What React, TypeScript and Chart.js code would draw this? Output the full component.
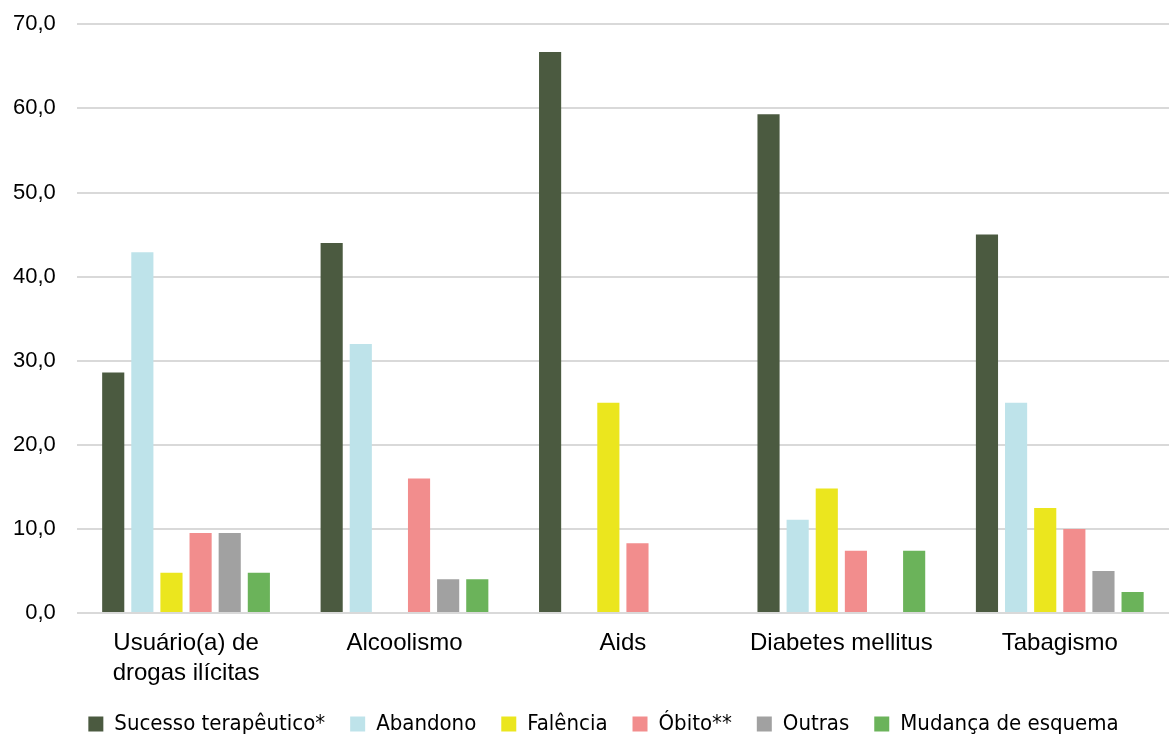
import React, { useEffect, useRef } from "react";
import { Chart, registerables } from "chart.js";

Chart.register(...registerables);

const categories: (string | string[])[] = [
  ["Usuário(a) de", "drogas ilícitas"],
  "Alcoolismo",
  "Aids",
  "Diabetes mellitus",
  "Tabagismo",
];

const sucesso = [28.6, 44.0, 66.7, 59.3, 45.0];
const abandono = [42.9, 32.0, null, 11.1, 25.0];
const falencia = [4.8, null, 25.0, 14.8, 12.5];
const obito = [9.5, 16.0, 8.3, 7.4, 10.0];
const outras = [9.5, 4.0, null, null, 5.0];
const mudanca = [4.8, 4.0, null, 7.4, 2.5];

const seriesNames = [
  "Sucesso terapêutico*",
  "Abandono",
  "Falência",
  "Óbito**",
  "Outras",
  "Mudança de esquema",
];
const seriesColors = ["#4b5a40", "#bee3ea", "#ebe61e", "#f28d8d", "#a1a1a1", "#6bb35a"];
const seriesValues = [sucesso, abandono, falencia, obito, outras, mudanca];

const yMax = 70;
const yStep = 10;

const legendShift = {
  id: "legendShift",
  afterLayout(chart: any) {
    if (chart.legend) {
      chart.legend.left += 23;
      chart.legend.right += 23;
    }
  },
};

export default function App() {
  const ref = useRef<HTMLCanvasElement | null>(null);
  useEffect(() => {
    document.body.style.margin = "0";
    const chart = new Chart(ref.current!, {
      type: "bar",
      data: {
        labels: categories,
        datasets: seriesValues.map((v, i) => ({
          label: seriesNames[i],
          data: v,
          backgroundColor: seriesColors[i],
          borderWidth: 0,
          barPercentage: 0.76,
          categoryPercentage: 0.8,
        })),
      },
      plugins: [legendShift],
      options: {
        animation: false,
        responsive: false,
        maintainAspectRatio: false,
        layout: { padding: { top: 0, right: 0, left: -8, bottom: -9 } },
        plugins: {
          tooltip: { enabled: false },
          legend: {
            position: "bottom",
            labels: {
              boxWidth: 15,
              boxHeight: 15,
              padding: 25,
              color: "#000",
              font: { family: "'DejaVu Sans Condensed', 'Liberation Sans Narrow', 'Liberation Sans'", size: 22 },
            },
          },
        },
        scales: {
          x: {
            grid: { display: false },
            border: { display: false },
            afterFit: (scale: any) => {
              scale.height -= 7;
            },
            ticks: {
              color: "#000",
              padding: 7,
              font: { family: "'Liberation Sans', Arial", size: 24, lineHeight: 1.25 },
              maxRotation: 0,
              autoSkip: false,
            },
          },
          y: {
            min: 0,
            max: yMax,
            grid: { color: "#d9d9d9", lineWidth: 2, drawTicks: false },
            border: { display: false },
            ticks: {
              stepSize: yStep,
              color: "#000",
              padding: 21,
              font: { family: "'Liberation Sans', Arial", size: 22, lineHeight: 0.3 },
              callback: (v: any) => Number(v).toFixed(1).replace(".", ","),
            },
          },
        },
      },
    });
    return () => chart.destroy();
  }, []);
  return (
    <div style={{ position: "absolute", left: 0, top: 0, width: 1169, height: 736 }}>
      <canvas ref={ref} width={1169} height={736} />
    </div>
  );
}
